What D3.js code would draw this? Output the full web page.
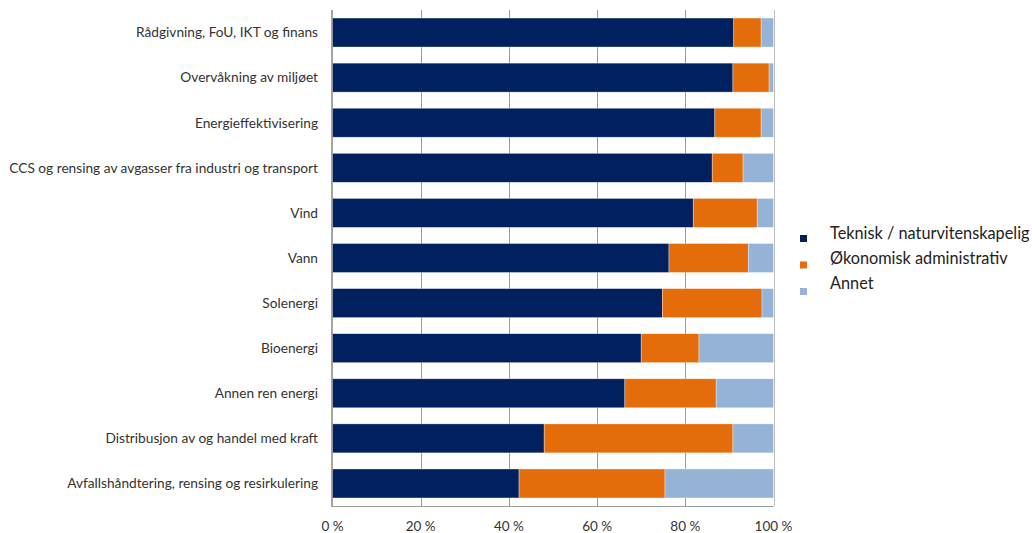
<!DOCTYPE html>
<html>
<head>
<meta charset="utf-8">
<script src="https://cdn.jsdelivr.net/npm/d3@7"></script>
<style>
  html, body { margin: 0; padding: 0; background: #fff; }
  svg { display: block; font-family: Lato, "Open Sans", sans-serif; }
</style>
</head>
<body>
<svg id="chart" width="1032" height="533"></svg>
<script>
// Fagbakgrunn per bransje (andel i prosent)
const categories = [
  "Rådgivning, FoU, IKT og finans",
  "Overvåkning av miljøet",
  "Energieffektivisering",
  "CCS og rensing av avgasser fra industri og transport",
  "Vind",
  "Vann",
  "Solenergi",
  "Bioenergi",
  "Annen ren energi",
  "Distribusjon av og handel med kraft",
  "Avfallshåndtering, rensing og resirkulering"
];
const seriesNames = ["Teknisk / naturvitenskapelig", "Økonomisk administrativ", "Annet"];
const teknisk   = [91.0, 90.8, 86.7, 86.1, 81.8, 76.3, 74.8, 70.0, 66.3, 48.0, 42.3];
const okonomisk = [ 6.2,  8.2, 10.5,  7.0, 14.5, 18.0, 22.6, 13.1, 20.7, 42.8, 33.1];
const annet     = [ 2.8,  1.0,  2.8,  6.9,  3.7,  5.7,  2.6, 16.9, 13.0,  9.2, 24.6];
const tickValues = [0, 20, 40, 60, 80, 100];
const tickLabels = ["0 %", "20 %", "40 %", "60 %", "80 %", "100 %"];

const colors = ["#002060", "#E46C0A", "#95B3D7"];

const svg = d3.select("#chart");
const plot = { left: 332.5, right: 773.5, top: 10, bottom: 506 };

const x = d3.scaleLinear().domain([0, 100]).range([plot.left, plot.right]);
const y = d3.scaleBand().domain(categories).range([plot.top, plot.bottom]).paddingInner(0.357).paddingOuter(0.178);

// vertical gridlines
svg.append("g")
  .selectAll("line")
  .data(tickValues.slice(1))
  .join("line")
  .attr("x1", d => Math.round(x(d)) + 0.5)
  .attr("x2", d => Math.round(x(d)) + 0.5)
  .attr("y1", plot.top)
  .attr("y2", plot.bottom)
  .attr("stroke", d => d === 100 ? "#bfbfbf" : "#9a9a9a")
  .attr("stroke-width", 1);

// stacked bars
const rows = categories.map((c, i) => ({ cat: c, vals: [teknisk[i], okonomisk[i], annet[i]] }));
const stack = d3.stack().keys([0, 1, 2]).value((d, k) => d.vals[k]);
const layers = stack(rows);

svg.append("g")
  .selectAll("g")
  .data(layers)
  .join("g")
  .attr("fill", (d, i) => colors[i])
  .selectAll("rect")
  .data(d => d)
  .join("rect")
  .attr("x", d => x(d[0]))
  .attr("y", d => y(d.data.cat))
  .attr("width", d => x(d[1]) - x(d[0]))
  .attr("height", y.bandwidth())
  .attr("stroke", "#ffffff")
  .attr("stroke-opacity", 0.6)
  .attr("stroke-width", 0.6);

// axes lines
svg.append("line")
  .attr("x1", plot.left - 0.5).attr("x2", plot.left - 0.5)
  .attr("y1", plot.top).attr("y2", plot.bottom + 0.5)
  .attr("stroke", "#868686").attr("stroke-width", 1.5);
svg.append("line")
  .attr("x1", plot.left - 1).attr("x2", plot.right)
  .attr("y1", plot.bottom + 0.5).attr("y2", plot.bottom + 0.5)
  .attr("stroke", "#9a9a9a").attr("stroke-width", 1);

// category labels
svg.append("g")
  .selectAll("text")
  .data(categories)
  .join("text")
  .attr("x", 318)
  .attr("y", d => y(d) + y.bandwidth() / 2)
  .attr("dy", "0.35em")
  .attr("text-anchor", "end")
  .attr("font-size", 13.7)
  .attr("fill", "#333")
  .text(d => d);

// x tick labels
svg.append("g")
  .selectAll("text")
  .data(tickValues)
  .join("text")
  .attr("x", d => x(d))
  .attr("y", 526)
  .attr("dy", "0.35em")
  .attr("text-anchor", "middle")
  .attr("font-size", 13.5)
  .attr("fill", "#333")
  .text((d, i) => tickLabels[i]);

// legend
const legend = svg.append("g");
seriesNames.forEach((name, i) => {
  legend.append("rect")
    .attr("x", 800).attr("y", 235 + i * 26.5)
    .attr("width", 7).attr("height", 7)
    .attr("fill", colors[i]);
  legend.append("text")
    .attr("x", 830).attr("y", 233 + i * 25)
    .attr("dy", "0.35em")
    .attr("font-size", 16.3)
    .attr("fill", "#222")
    .text(name);
});
</script>
</body>
</html>
